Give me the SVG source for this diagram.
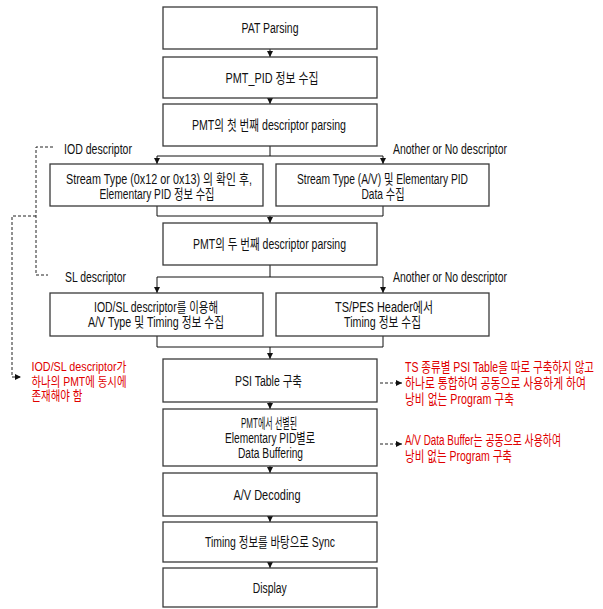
<svg xmlns="http://www.w3.org/2000/svg" width="603" height="609" viewBox="0 0 603 609">
<style>
.box{fill:#fff;stroke:#3a3a3a;stroke-width:1.3}
.t{font-family:"Liberation Sans Narrow","Liberation Sans","Noto Sans CJK KR",sans-serif;font-size:14px;fill:#111;text-anchor:middle}
.l{font-family:"Liberation Sans Narrow","Liberation Sans","Noto Sans CJK KR",sans-serif;font-size:14px;fill:#111}
.r{font-family:"Liberation Sans Narrow","Liberation Sans","Noto Sans CJK KR",sans-serif;font-size:14px;fill:#e00000}
.rs{font-family:"Liberation Sans Narrow","Liberation Sans","Noto Sans CJK KR",sans-serif;font-size:13px;fill:#e00000}
.c{fill:none;stroke:#111;stroke-width:1}
.d{fill:none;stroke:#222;stroke-width:1;stroke-dasharray:3 2}
</style>
<defs>
<marker id="ah" viewBox="0 0 6 6" refX="6" refY="3" markerWidth="6" markerHeight="6" markerUnits="userSpaceOnUse" orient="auto">
<path d="M0,0 L6,3 L0,6 z" fill="#111"/>
</marker>
</defs>

<g id="connectors">
<path class="c" d="M270,49 V57" marker-end="url(#ah)"/>
<path class="c" d="M270,98 V104" marker-end="url(#ah)"/>
<path class="c" d="M270,146 V156 M157,156 H383"/>
<path class="c" d="M157,156 V164" marker-end="url(#ah)"/>
<path class="c" d="M383,156 V164" marker-end="url(#ah)"/>
<path class="c" d="M157,206 V216 H383 V206"/>
<path class="c" d="M270,216 V223" marker-end="url(#ah)"/>
<path class="c" d="M270,265 V277 M157,277 H383"/>
<path class="c" d="M157,277 V293" marker-end="url(#ah)"/>
<path class="c" d="M383,277 V293" marker-end="url(#ah)"/>
<path class="c" d="M157,336 V347 H383 V336"/>
<path class="c" d="M270,347 V359" marker-end="url(#ah)"/>
<path class="c" d="M270,402 V409" marker-end="url(#ah)"/>
<path class="c" d="M270,466 V473" marker-end="url(#ah)"/>
<path class="c" d="M270,516 V522" marker-end="url(#ah)"/>
<path class="c" d="M270,562 V568" marker-end="url(#ah)"/>
<path class="d" d="M53,147 H36 V275 H48"/>
<path class="d" d="M36,216 H12 V377 H21" marker-end="url(#ah)"/>
<path class="d" d="M380,383 H402" marker-end="url(#ah)"/>
<path class="d" d="M380,444 H402" marker-end="url(#ah)"/>
</g>

<g id="n1"><rect class="box" x="163" y="7" width="214" height="42"/><text class="t" x="270" y="33" textLength="57" lengthAdjust="spacingAndGlyphs">PAT Parsing</text></g>
<g id="n2"><rect class="box" x="163" y="57" width="214" height="41"/><text class="t" x="272" y="82.5" textLength="93" lengthAdjust="spacingAndGlyphs">PMT_PID 정보 수집</text></g>
<g id="n3"><rect class="box" x="163" y="104" width="214" height="42"/><text class="t" x="269" y="130" textLength="154" lengthAdjust="spacingAndGlyphs">PMT의 첫 번째 descriptor parsing</text></g>

<g id="lbl1"><text class="l" x="64" y="153.5" textLength="68" lengthAdjust="spacingAndGlyphs">IOD descriptor</text><text class="l" x="393" y="153.5" textLength="114" lengthAdjust="spacingAndGlyphs">Another or No descriptor</text></g>

<g id="n4"><rect class="box" x="50" y="164" width="213" height="42"/><text class="t" x="159" y="184" textLength="186" lengthAdjust="spacingAndGlyphs">Stream Type (0x12 or 0x13) 의 확인 후,</text><text class="t" x="157" y="199" textLength="115" lengthAdjust="spacingAndGlyphs">Elementary PID 정보 수집</text></g>
<g id="n5"><rect class="box" x="276" y="164" width="213" height="42"/><text class="t" x="382.5" y="184" textLength="171" lengthAdjust="spacingAndGlyphs">Stream Type (A/V) 및 Elementary PID</text><text class="t" x="383" y="199" textLength="43" lengthAdjust="spacingAndGlyphs">Data 수집</text></g>

<g id="n6"><rect class="box" x="163" y="223" width="214" height="42"/><text class="t" x="269.5" y="249" textLength="153" lengthAdjust="spacingAndGlyphs">PMT의 두 번째 descriptor parsing</text></g>

<g id="lbl2"><text class="l" x="65" y="281.5" textLength="61" lengthAdjust="spacingAndGlyphs">SL descriptor</text><text class="l" x="393" y="281.5" textLength="114" lengthAdjust="spacingAndGlyphs">Another or No descriptor</text></g>

<g id="n7"><rect class="box" x="50" y="293" width="213" height="43"/><text class="t" x="156" y="312" textLength="124" lengthAdjust="spacingAndGlyphs">IOD/SL descriptor를 이용해</text><text class="t" x="156" y="327" textLength="136" lengthAdjust="spacingAndGlyphs">A/V Type 및 Timing 정보 수집</text></g>
<g id="n8"><rect class="box" x="276" y="293" width="213" height="43"/><text class="t" x="384" y="312" textLength="98" lengthAdjust="spacingAndGlyphs">TS/PES Header에서</text><text class="t" x="382.5" y="327" textLength="77" lengthAdjust="spacingAndGlyphs">Timing 정보 수집</text></g>

<g id="n9"><rect class="box" x="163" y="359" width="214" height="43"/><text class="t" x="268.5" y="385.5" textLength="67" lengthAdjust="spacingAndGlyphs">PSI Table 구축</text></g>
<g id="n10"><rect class="box" x="163" y="409" width="214" height="57"/><text class="t" x="269" y="428" textLength="56" lengthAdjust="spacingAndGlyphs">PMT에서 선별된</text><text class="t" x="270" y="443" textLength="90" lengthAdjust="spacingAndGlyphs">Elementary PID별로</text><text class="t" x="270.5" y="458" textLength="65" lengthAdjust="spacingAndGlyphs">Data Buffering</text></g>
<g id="n11"><rect class="box" x="163" y="473" width="214" height="43"/><text class="t" x="267" y="499.5" textLength="67" lengthAdjust="spacingAndGlyphs">A/V Decoding</text></g>
<g id="n12"><rect class="box" x="163" y="522" width="214" height="40"/><text class="t" x="270" y="547" textLength="130" lengthAdjust="spacingAndGlyphs">Timing 정보를 바탕으로 Sync</text></g>
<g id="n13"><rect class="box" x="163" y="568" width="214" height="39"/><text class="t" x="269.7" y="592.5" textLength="34" lengthAdjust="spacingAndGlyphs">Display</text></g>

<g id="note-left"><text class="rs" x="31.5" y="371" textLength="95" lengthAdjust="spacingAndGlyphs">IOD/SL descriptor가</text><text class="rs" x="31.5" y="385.5" textLength="95" lengthAdjust="spacingAndGlyphs">하나의 PMT에 동시에</text><text class="rs" x="31.5" y="400" textLength="51" lengthAdjust="spacingAndGlyphs">존재해야 함</text></g>
<g id="note-right1"><text class="r" x="405" y="372" textLength="189" lengthAdjust="spacingAndGlyphs">TS 종류별 PSI Table을 따로 구축하지 않고</text><text class="r" x="405" y="388" textLength="181" lengthAdjust="spacingAndGlyphs">하나로 통합하여 공동으로 사용하게 하여</text><text class="r" x="405" y="404" textLength="109" lengthAdjust="spacingAndGlyphs">낭비 없는 Program 구축</text></g>
<g id="note-right2"><text class="r" x="405" y="445" textLength="156" lengthAdjust="spacingAndGlyphs">A/V Data Buffer는 공동으로 사용하여</text><text class="r" x="405" y="461" textLength="107" lengthAdjust="spacingAndGlyphs">낭비 없는 Program 구축</text></g>
</svg>
